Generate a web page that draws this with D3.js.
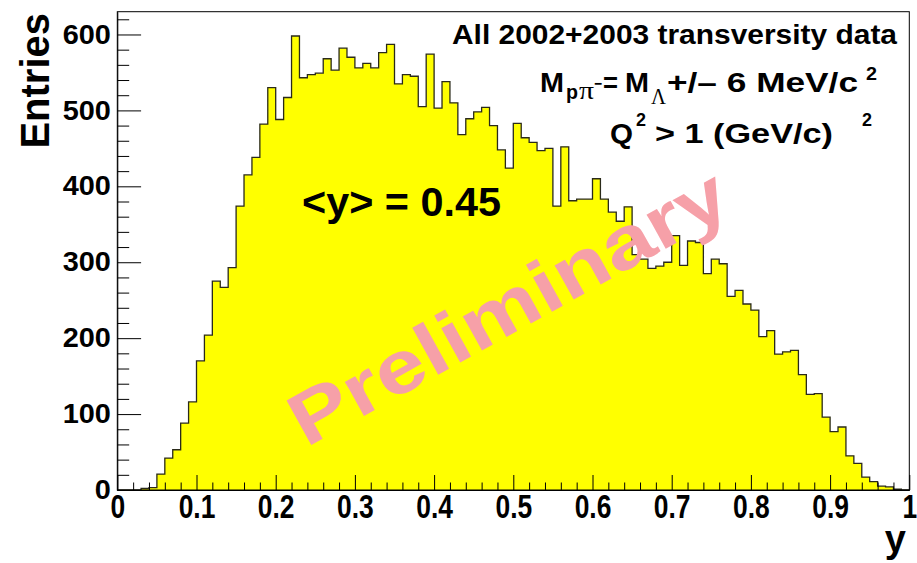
<!DOCTYPE html>
<html>
<head>
<meta charset="utf-8">
<script src="https://cdn.jsdelivr.net/npm/d3@7"></script>
<style>
	body { margin: 0; background: #fff; }
	svg text { font-family: 'Liberation Sans', Arial, Helvetica, sans-serif; font-weight: bold; }
</style>
</head>
<body>
<svg id="chart" width="917" height="563"></svg>
<script>
// histogram range and bin contents (100 bins from 0 to 1)
const yRange = [0, 1];
const entries = [
	0, 0, 0, 2, 3, 21, 42, 53, 88, 116,
	170, 204, 275, 267, 293, 374, 415, 438, 482, 530,
	488, 517, 598, 543, 547, 549, 568, 553, 582, 570,
	556, 562, 556, 576, 587, 535, 547, 545, 505, 574,
	503, 538, 510, 468, 489, 498, 504, 480, 448, 424,
	483, 464, 458, 447, 450, 374, 452, 381, 383, 383,
	410, 383, 366, 354, 373, 310, 304, 292, 295, 300,
	335, 296, 328, 326, 285, 304, 298, 255, 263, 245,
	237, 202, 210, 179, 182, 184, 152, 126, 127, 96,
	77, 83, 45, 35, 17, 11, 5, 4, 1, 0
];
const entriesMax = 630;

const xMajorTicks = [0, 0.1, 0.2, 0.3, 0.4, 0.5, 0.6, 0.7, 0.8, 0.9, 1];
const xTickLabels = ['0', '0.1', '0.2', '0.3', '0.4', '0.5', '0.6', '0.7', '0.8', '0.9', '1'];
const yMajorTicks = [0, 100, 200, 300, 400, 500, 600];
const yTickLabels = ['0', '100', '200', '300', '400', '500', '600'];

const svg = d3.select('#chart');
const frame = { left: 117.3, right: 909.3, top: 11.7, bottom: 490 };

const x = d3.scaleLinear().domain(yRange).range([frame.left, frame.right]);
const y = d3.scaleLinear().domain([0, entriesMax]).range([frame.bottom, frame.top]);

// minor ticks: 5 divisions per major interval
const xMinorTicks = d3.range(0, 51).map((i) => i / 50).filter((v) => Math.round(v * 50) % 5 !== 0);
const yMinorTicks = d3.range(0, 32).map((i) => i * 20).filter((v) => v % 100 !== 0);

// step outline of the histogram
const binWidth = (yRange[1] - yRange[0]) / entries.length;
let stepPoints = [[x(yRange[0]), y(0)]];
entries.forEach((c, i) => {
	stepPoints.push([x(yRange[0] + i * binWidth), y(c)]);
	stepPoints.push([x(yRange[0] + (i + 1) * binWidth), y(c)]);
});
stepPoints.push([x(yRange[1]), y(0)]);

svg.append('path')
	.attr('d', d3.line()(stepPoints))
	.attr('fill', '#ffff00')
	.attr('stroke', '#2a2a1a')
	.attr('stroke-width', 1.3);

// watermark, drawn over the histogram
svg.append('text')
	.attr('transform', 'translate(306,448) rotate(-29)')
	.attr('font-size', 74)
	.attr('textLength', 490)
	.attr('lengthAdjust', 'spacingAndGlyphs')
	.attr('fill', '#f6a0a8')
	.text('Preliminary');

svg.append('text')
	.attr('x', 302).attr('y', 216)
	.attr('font-size', 40)
	.attr('textLength', 199)
	.attr('lengthAdjust', 'spacingAndGlyphs')
	.text('<y> = 0.45');

// annotation lines (TLatex-like pieces)
function latex(str, px, py, size, width, opts) {
	let t = svg.append('text')
		.attr('x', px).attr('y', py)
		.attr('font-size', size)
		.text(str);
	if (width) t.attr('textLength', width).attr('lengthAdjust', 'spacingAndGlyphs');
	if (opts && opts.serif) t.style('font-family', "'Liberation Serif', 'DejaVu Serif', serif").style('font-weight', 'normal');
	return t;
}
latex('All 2002+2003 transversity data', 452, 44, 27, 445);

latex('M', 540, 92, 27, 24);
latex('p', 566, 99, 20, 12);
latex('\u03c0', 579, 99, 25, 15, { serif: true });
latex('\u2212', 594, 89, 16, 8);
latex('=', 603, 92, 27, 15);
latex('M', 625, 92, 27, 24);
latex('\u039b', 651, 104, 23, 15, { serif: true });
latex('+/\u2013 6 MeV/c', 667, 92, 27, 191);
latex('2', 866, 80, 18, 11);

latex('Q', 610, 143, 27, 23);
latex('2', 636, 126, 18, 10);
latex('> 1 (GeV/c)', 655, 143, 27, 178);
latex('2', 862, 126, 18, 10);

// frame
svg.append('rect')
	.attr('x', frame.left).attr('y', frame.top)
	.attr('width', frame.right - frame.left).attr('height', frame.bottom - frame.top)
	.attr('fill', 'none').attr('stroke', '#000').attr('stroke-width', 1);

// x axis: ticks point into the frame
let xAxisG = svg.append('g').attr('transform', 'translate(0,' + frame.bottom + ')');
xAxisG.append('g').call(d3.axisBottom(x).tickValues(xMinorTicks).tickSize(-7.5).tickFormat(''))
	.call((g) => g.select('.domain').remove());
xAxisG.append('g').call(d3.axisBottom(x).tickValues(xMajorTicks).tickSizeInner(-15).tickSizeOuter(0)
	.tickPadding(5).tickFormat((d, i) => xTickLabels[i]));
xAxisG.selectAll('text')
	.attr('font-size', 33)
	.attr('fill', '#000')
	.attr('transform', 'scale(0.8,1)')
	.style('font-family', "'Liberation Sans', Arial, sans-serif");

// y axis
let yAxisG = svg.append('g').attr('transform', 'translate(' + frame.left + ',0)');
yAxisG.append('g').call(d3.axisLeft(y).tickValues(yMinorTicks).tickSize(-11.9).tickFormat(''))
	.call((g) => g.select('.domain').remove());
yAxisG.append('g').call(d3.axisLeft(y).tickValues(yMajorTicks).tickSizeInner(-23.8).tickSizeOuter(0)
	.tickPadding(6).tickFormat((d, i) => yTickLabels[i]));
yAxisG.selectAll('text')
	.attr('font-size', 27)
	.attr('fill', '#000')
	.attr('transform', 'scale(1.07,1)')
	.style('font-family', "'Liberation Sans', Arial, sans-serif");
svg.selectAll('.tick line').attr('stroke', '#000');
svg.selectAll('.domain').attr('stroke', '#000');

// axis titles
svg.append('text')
	.attr('transform', 'translate(49,13) rotate(-90)')
	.attr('text-anchor', 'end')
	.attr('font-size', 40)
	.text('Entries');

svg.append('text')
	.attr('x', 906).attr('y', 552)
	.attr('text-anchor', 'end')
	.attr('font-size', 38)
	.text('y');
</script>
</body>
</html>
